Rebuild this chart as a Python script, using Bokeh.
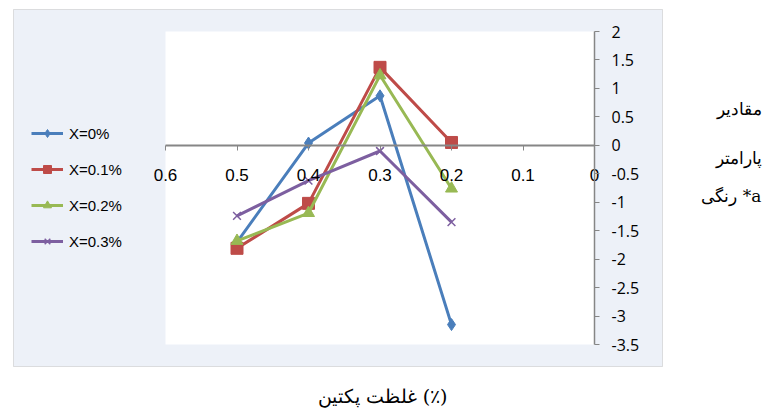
from bokeh.plotting import figure
from bokeh.models import (Range1d, LinearAxis, FixedTicker, BoxAnnotation, Label,
                          Legend, LegendItem, ColumnDataSource)
from bokeh.embed import file_html
from bokeh.resources import INLINE

# ---------------- data ----------------
pectin = [0.5, 0.4, 0.3, 0.2]
series_names = ["X=0%", "X=0.1%", "X=0.2%", "X=0.3%"]
x0 = [-1.70, 0.04, 0.87, -3.15]
x01 = [-1.81, -1.02, 1.37, 0.05]
x02 = [-1.68, -1.19, 1.23, -0.76]
x03 = [-1.24, -0.62, -0.10, -1.35]
x_ticks = [0.6, 0.5, 0.4, 0.3, 0.2, 0.1, 0.0]
y_ticks = [2, 1.5, 1, 0.5, 0, -0.5, -1, -1.5, -2, -2.5, -3, -3.5]
x_tick_labels = {0.6: "0.6", 0.5: "0.5", 0.4: "0.4", 0.3: "0.3", 0.2: "0.2", 0.1: "0.1", 0.0: "0"}
y_tick_labels = {2: "2", 1.5: "1.5", 1: "1", 0.5: "0.5", 0: "0", -0.5: "-0.5", -1: "-1",
                 -1.5: "-1.5", -2: "-2", -2.5: "-2.5", -3: "-3", -3.5: "-3.5"}
y_title_lines = ["مقادیر", "پارامتر", "رنگی *a"]
x_title = "غلظت پکتین (٪)"

colors = ["#4A7EBB", "#BE4B48", "#98B954", "#7D5FA0"]
markers = ["diamond", "square", "triangle", "x"]
sizes = [12, 12, 12, 11]

W, H = 766, 412
# plot area (white) in canvas pixels: x 165..594, y 31..344
PX_L, PX_R, PX_T, PX_B = 165, 594, 31, 344
X_MAX, X_MIN, Y_MAX, Y_MIN = 0.6, 0.0, 2.0, -3.5
kx = (PX_R - PX_L) / (X_MAX - X_MIN)
ky = (PX_B - PX_T) / (Y_MAX - Y_MIN)

p = figure(width=W, height=H, output_backend="svg", toolbar_location=None,
           x_range=Range1d(X_MAX + PX_L / kx, X_MIN - (W - PX_R) / kx),
           y_range=Range1d(Y_MIN - (H - PX_B) / ky, Y_MAX + PX_T / ky),
           x_axis_location=None, y_axis_location=None,
           min_border=0)
p.xgrid.visible = False
p.ygrid.visible = False
p.outline_line_color = None
p.border_fill_color = "white"
p.background_fill_color = "white"

# chart-area box (screen units) then white plot area on top
chart_box = BoxAnnotation(left=13, right=662, top=H - 9, bottom=H - 366,
                          left_units="screen", right_units="screen",
                          top_units="screen", bottom_units="screen",
                          fill_color="#EDF1F8", fill_alpha=1.0,
                          line_color="#9A9A9A", line_width=1, level="underlay")
p.add_layout(chart_box)
plot_box = BoxAnnotation(left=X_MAX, right=X_MIN, top=Y_MAX, bottom=Y_MIN,
                         fill_color="white", fill_alpha=1.0, line_color=None, level="underlay")
p.add_layout(plot_box)

# x axis crossing at y = 0
xaxis = LinearAxis(fixed_location=0, bounds=(X_MIN, X_MAX), ticker=FixedTicker(ticks=x_ticks),
                   major_label_overrides=x_tick_labels,
                   axis_line_color="#868686", axis_line_width=2,
                   major_tick_line_color="#868686", major_tick_in=0, major_tick_out=5,
                   minor_tick_line_color=None,
                   major_label_standoff=19,
                   major_label_text_font="Liberation Sans",
                   major_label_text_font_size="17px",
                   major_label_text_color="black")
p.add_layout(xaxis, "below")

yaxis = LinearAxis(fixed_location=0, bounds=(Y_MIN, Y_MAX), ticker=FixedTicker(ticks=y_ticks),
                   major_label_overrides=y_tick_labels,
                   axis_line_color="#868686", axis_line_width=1.5,
                   major_tick_line_color="#868686", major_tick_in=0, major_tick_out=5,
                   minor_tick_line_color=None,
                   major_label_standoff=12,
                   major_label_text_font="Open Sans",
                   major_label_text_font_size="16px",
                   major_label_text_color="black")
p.add_layout(yaxis, "right")

items = []
for name, ys, c, m, s in zip(series_names, [x0, x01, x02, x03], colors, markers, sizes):
    src = ColumnDataSource(dict(x=pectin, y=ys))
    ln = p.line("x", "y", source=src, line_color=c, line_width=3)
    if m == "x":
        sc = p.scatter("x", "y", source=src, marker=m, size=s, line_color=c, line_width=1.5)
    else:
        sc = p.scatter("x", "y", source=src, marker=m, size=s, fill_color=c, line_color=c)
    items.append(LegendItem(label=name, renderers=[ln, sc]))

legend = Legend(items=items, location=(31, H - 251), orientation="vertical",
                glyph_width=32, glyph_height=20, label_height=20, spacing=16,
                label_standoff=6, padding=0, margin=0,
                border_line_color=None, background_fill_alpha=0,
                label_text_font="Liberation Sans", label_text_font_size="15px",
                label_text_color="black")
p.add_layout(legend)

# Persian titles
for txt, yy in zip(y_title_lines, [108, 157, 195]):
    p.add_layout(Label(x=761, y=H - yy, x_units="screen", y_units="screen", text=txt,
                       text_align="right", text_baseline="middle",
                       text_font="DejaVu Serif", text_font_size="17px", text_color="black"))

p.add_layout(Label(x=382, y=H - 395, x_units="screen", y_units="screen", text=x_title,
                   text_align="center", text_baseline="middle",
                   text_font="DejaVu Serif", text_font_size="19px", text_color="black"))

open("out.html", "w").write(file_html(p, INLINE))
